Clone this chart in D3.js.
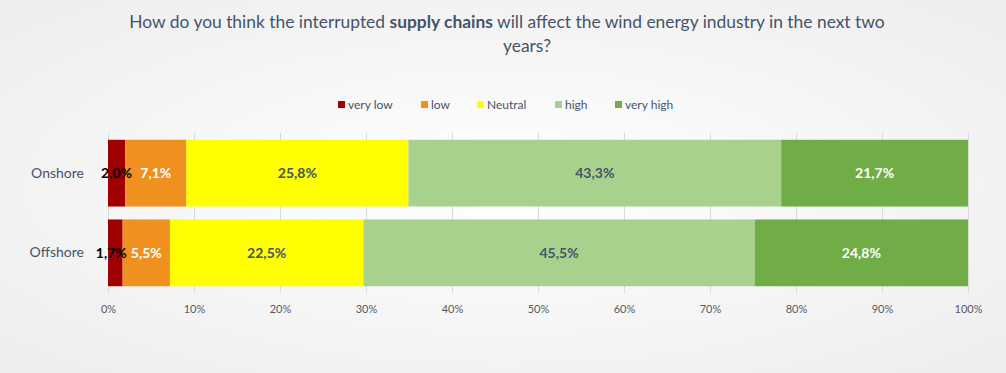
<!DOCTYPE html>
<html>
<head>
<meta charset="utf-8">
<script src="https://cdn.jsdelivr.net/npm/d3@7"></script>
<style>
  html, body { margin: 0; padding: 0; }
  body { width: 1006px; height: 373px; overflow: hidden; }
  text { font-family: Lato, "Open Sans", sans-serif; }
</style>
</head>
<body>
<svg id="chart" width="1006" height="373"></svg>
<script>
// data
const categories = ["Onshore", "Offshore"];
const seriesNames = ["very low", "low", "Neutral", "high", "very high"];
const onshore = [2.0, 7.1, 25.8, 43.3, 21.7];
const offshore = [1.7, 5.5, 22.5, 45.5, 24.8];
const tickValues = [0, 10, 20, 30, 40, 50, 60, 70, 80, 90, 100];

const colors = ["#a00000", "#f0901e", "#ffff00", "#a9d18e", "#70ad47"];
const labelColors = ["#000000", "#ffffff", "#44546a", "#44546a", "#ffffff"];

const W = 1006, H = 373;
const svg = d3.select("#chart");

// background
const defs = svg.append("defs");
const grad = defs.append("radialGradient").attr("id", "bg")
  .attr("cx", "50%").attr("cy", "50%").attr("r", "75%");
grad.append("stop").attr("offset", "0%").attr("stop-color", "#ffffff");
grad.append("stop").attr("offset", "100%").attr("stop-color", "#ececec");
svg.append("rect").attr("width", W).attr("height", H).attr("fill", "url(#bg)");

// scales
const x = d3.scaleLinear().domain([0, 100]).range([108, 968]);
const y = d3.scaleBand().domain(categories).range([133, 293]).paddingInner(0.1625).paddingOuter(0.085);

// rows normalized to 100%
const rows = [onshore, offshore].map((vals, i) => {
  const total = d3.sum(vals);
  const row = { cat: categories[i] };
  seriesNames.forEach((s, j) => { row[s] = vals[j] / total * 100; row[s + "_raw"] = vals[j]; });
  return row;
});
const stacked = d3.stack().keys(seriesNames)(rows);

// gridlines
svg.append("g")
  .selectAll("line")
  .data(tickValues)
  .join("line")
  .attr("x1", (d) => x(d) + 0.5).attr("x2", (d) => x(d) + 0.5)
  .attr("y1", 133).attr("y2", 293)
  .attr("stroke", "#d9d9d9").attr("stroke-width", 1);

// bars
const layers = svg.append("g").selectAll("g")
  .data(stacked)
  .join("g")
  .attr("fill", (d, i) => colors[i]);
layers.selectAll("rect")
  .data((d) => d)
  .join("rect")
  .attr("x", (d) => x(d[0]))
  .attr("width", (d) => x(d[1]) - x(d[0]))
  .attr("y", (d) => y(d.data.cat))
  .attr("height", y.bandwidth());

// labels
const labelGroups = stacked.map((layer, i) =>
  svg.append("g").selectAll("text")
    .data(layer)
    .join("text")
    .attr("x", (d) => (x(d[0]) + x(d[1])) / 2)
    .attr("y", (d) => y(d.data.cat) + y.bandwidth() / 2)
    .attr("dy", "0.35em")
    .attr("text-anchor", "middle")
    .attr("font-size", 14)
    .attr("font-weight", "bold")
    .attr("fill", labelColors[i])
    .text((d) => d.data[layer.key + "_raw"].toFixed(1).replace(".", ",") + "%")
);
// push the first label left when it runs into the next one
labelGroups[0].each(function (d, j) {
  const next = labelGroups[1].nodes()[j].getBBox();
  const box = this.getBBox();
  const over = box.x + box.width + 4 - next.x;
  if (over > 0) d3.select(this).attr("x", +d3.select(this).attr("x") - over);
});

// x axis labels
const xaxis = d3.axisBottom(x).tickValues(tickValues).tickSize(0).tickFormat((d) => d + "%");
const xg = svg.append("g").attr("transform", "translate(0,302)").call(xaxis);
xg.select(".domain").remove();
xg.selectAll("text").attr("font-size", 11).attr("fill", "#595959")
  .style("font-family", "Lato, 'Open Sans', sans-serif");

// y axis labels
const yaxis = d3.axisLeft(y).tickSize(0).tickPadding(24);
const yg = svg.append("g").attr("transform", "translate(108,0)").call(yaxis);
yg.select(".domain").remove();
yg.selectAll("text").attr("font-size", 14).attr("fill", "#44546a")
  .style("font-family", "Lato, 'Open Sans', sans-serif");

// title
const title = svg.append("text").attr("font-size", 17.4).attr("fill", "#44546a")
  .attr("text-anchor", "middle");
const t1 = title.append("tspan").attr("x", 507).attr("y", 28);
t1.append("tspan").text("How do you think the interrupted ");
t1.append("tspan").attr("font-weight", "bold").text("supply chains");
t1.append("tspan").text(" will affect the wind energy industry in the next two");
title.append("tspan").attr("x", 527).attr("y", 52).text("years?");

// legend
const legendX = [338, 421, 477, 555, 615];
const legend = svg.append("g").selectAll("g")
  .data(seriesNames)
  .join("g")
  .attr("transform", (d, i) => `translate(${legendX[i]},105)`);
legend.append("rect").attr("x", 0).attr("y", -4).attr("width", 7).attr("height", 7)
  .attr("fill", (d, i) => colors[i]);
legend.append("text").attr("x", 10).attr("dy", "0.35em")
  .attr("font-size", 12).attr("fill", "#44546a")
  .text((d) => d);
</script>
</body>
</html>
